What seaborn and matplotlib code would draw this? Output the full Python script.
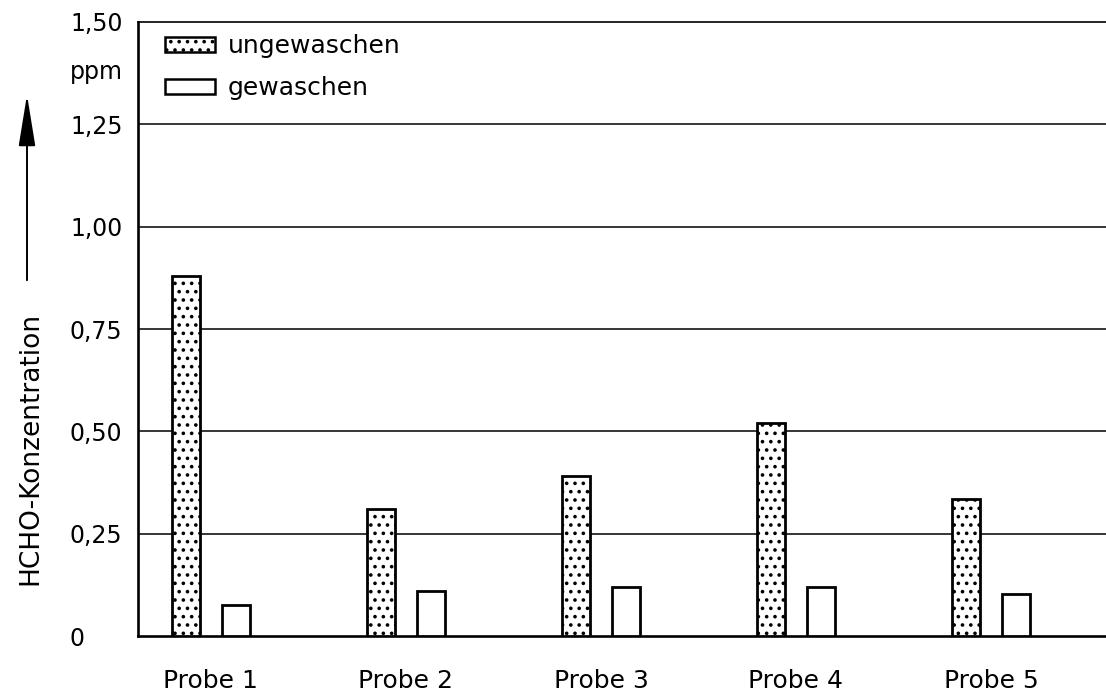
import matplotlib
matplotlib.use("Agg")
import matplotlib.pyplot as plt
import seaborn as sns
import pandas as pd
from matplotlib.patches import Patch

# ---- data ----
proben = ["Probe 1", "Probe 2", "Probe 3", "Probe 4", "Probe 5"]
ungewaschen = [0.88, 0.31, 0.39, 0.52, 0.335]
gewaschen = [0.075, 0.11, 0.12, 0.12, 0.103]
serien = ["ungewaschen", "gewaschen"]
y_ticks = [0, 0.25, 0.50, 0.75, 1.00, 1.25, 1.50]
y_ticklabels = ["0", "0,25", "0,50", "0,75", "1,00", "1,25", "1,50"]

df = pd.DataFrame({
    "Probe": proben * 2,
    "Zustand": [serien[0]] * len(proben) + [serien[1]] * len(proben),
    "Wert": ungewaschen + gewaschen,
})

sns.set_style("white")
plt.rcParams["font.family"] = ["DejaVu Sans"]
plt.rcParams["hatch.linewidth"] = 1.4
plt.rcParams["text.color"] = "black"
plt.rcParams["xtick.color"] = "black"
plt.rcParams["ytick.color"] = "black"
plt.rcParams["axes.labelcolor"] = "black"

W, H = 1106, 697
fig = plt.figure(figsize=(W / 100, H / 100), dpi=100)
ax = fig.add_axes([138 / W, 1 - 636 / H, 1 - 138 / W, (636 - 22) / H])

sns.barplot(data=df, x="Probe", y="Wert", hue="Zustand", order=proben,
            hue_order=serien, width=0.513, gap=0.45, ax=ax,
            palette=["white", "white"], edgecolor="black", linewidth=2.0,
            legend=False, zorder=3)

for patch in ax.containers[0]:
    patch.set_hatch("..")
    patch.set_facecolor("white")
for patch in ax.containers[1]:
    patch.set_facecolor("white")

ax.set_ylim(0, 1.5)
ax.set_xlim(-0.374, 4.59)
ax.set_yticks(y_ticks)
ax.set_yticklabels(y_ticklabels)
for lab in ax.get_yticklabels():
    lab.set_horizontalalignment("left")
ax.tick_params(axis="y", length=0, pad=49, labelsize=17, labelcolor="black")
ax.tick_params(axis="x", length=0, pad=24, labelsize=18, labelcolor="black")
ax.set_xlabel("")
ax.set_ylabel("")

# grid lines
for yv in y_ticks[1:-1]:
    ax.axhline(yv, color="black", linewidth=1.1, zorder=1)

for side in ["left", "bottom"]:
    ax.spines[side].set_linewidth(1.9)
    ax.spines[side].set_color("black")
ax.spines["top"].set_linewidth(1.2)
ax.spines["top"].set_color("black")
ax.spines["right"].set_visible(False)

# legend
handles = [Patch(facecolor="white", edgecolor="black", hatch="..", linewidth=1.8, label=serien[0]),
           Patch(facecolor="white", edgecolor="black", linewidth=1.8, label=serien[1])]
leg = ax.legend(handles=handles, loc="upper left", bbox_to_anchor=(0.005, 1.017),
                frameon=False, fontsize=18, handlelength=2.0, handleheight=0.55,
                handletextpad=0.5, labelspacing=0.72)
for t in leg.get_texts():
    t.set_color("black")

# unit label
fig.text(70 / W, 1 - 72 / H, "ppm", ha="left", va="center", fontsize=17)

# y axis title with arrow
fig.text(30 / W, 1 - 448 / H, "HCHO-Konzentration", rotation=90,
         ha="center", va="center", fontsize=19)
fig.add_artist(matplotlib.patches.FancyArrowPatch(
    (27 / W, 1 - 283 / H), (27 / W, 1 - 92 / H), transform=fig.transFigure,
    arrowstyle="-|>,head_length=8,head_width=1.3", color="black",
    linewidth=1.4, mutation_scale=4))

fig.savefig("out.png", dpi=100)
